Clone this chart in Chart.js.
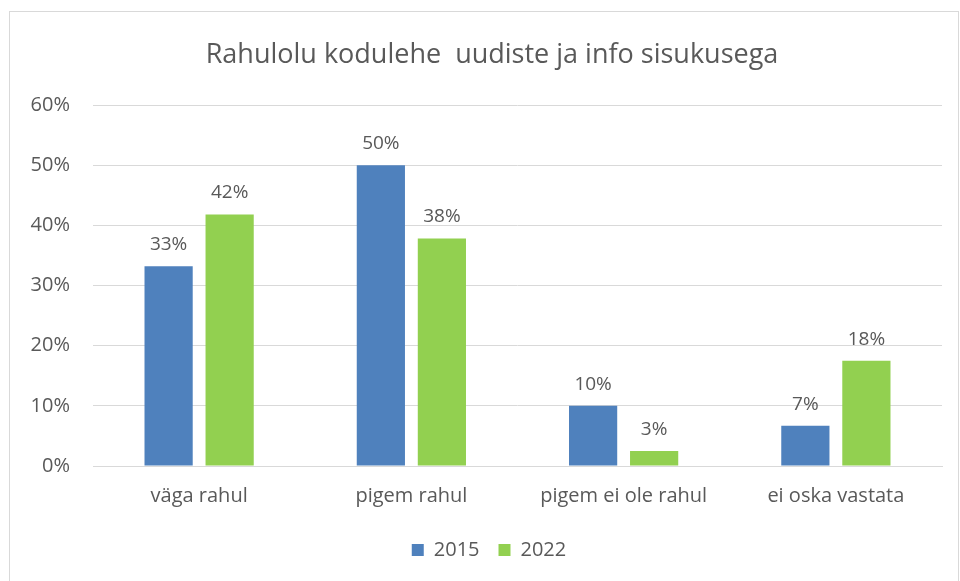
<!DOCTYPE html>
<html>
<head>
<meta charset="utf-8">
<script src="https://cdn.jsdelivr.net/npm/chart.js@4/dist/chart.umd.min.js"></script>
<style>
  html, body { margin: 0; padding: 0; background: #fff; }
  #box {
    position: absolute; left: 9px; top: 11px;
    width: 950px; height: 572px;
    border: 1px solid #d9d9d9; box-sizing: border-box;
  }
  #chart { display: block; }
</style>
</head>
<body>
<div id="box"><canvas id="chart" width="948" height="570"></canvas></div>
<script>
// andmed
const categories = ['väga rahul', 'pigem rahul', 'pigem ei ole rahul', 'ei oska vastata'];
const values2015 = [33.2, 50, 10, 6.7];
const values2022 = [41.8, 37.8, 2.5, 17.5];
const yTicks = [0, 10, 20, 30, 40, 50, 60];
const chartTitle = 'Rahulolu kodulehe  uudiste ja info sisukusega';

const fontFamily = '"Open Sans", "Noto Sans", sans-serif';
const textColor = '#595959';

// pealkiri veidi paremale nihutatult (nagu Excelis)
const titleText = {
    id: 'titleText',
    afterDraw(chart) {
        const ctx = chart.ctx;
        ctx.save();
        ctx.font = '27px ' + fontFamily;
        ctx.fillStyle = textColor;
        ctx.textAlign = 'center';
        ctx.textBaseline = 'middle';
        ctx.fillText(chartTitle, chart.width / 2 + 8, 43);
        ctx.restore();
    }
};

// legend samuti veidi paremale
const legendShift = {
    id: 'legendShift',
    afterLayout(chart) {
        if (chart.legend) {
            chart.legend.left += 13;
            chart.legend.right += 13;
        }
    }
};

// väärtuste sildid tulpade kohal
const barLabels = {
    id: 'barLabels',
    afterDatasetsDraw(chart) {
        const ctx = chart.ctx;
        ctx.save();
        ctx.font = '19px ' + fontFamily;
        ctx.fillStyle = textColor;
        ctx.textAlign = 'center';
        ctx.textBaseline = 'bottom';
        chart.data.datasets.forEach((ds, i) => {
            chart.getDatasetMeta(i).data.forEach((bar, j) => {
                ctx.fillText(Math.round(ds.data[j]) + '%', bar.x, bar.y - 12);
            });
        });
        ctx.restore();
    }
};

new Chart(document.getElementById('chart'), {
    type: 'bar',
    data: {
        labels: categories,
        datasets: [
            { label: '2015', data: values2015, backgroundColor: '#4F81BD' },
            { label: '2022', data: values2022, backgroundColor: '#92D050' }
        ]
    },
    options: {
        responsive: false,
        animation: false,
        categoryPercentage: 0.575,
        barPercentage: 0.79,
        layout: { padding: { left: 0, right: 16, top: 93, bottom: 12 } },
        scales: {
            x: {
                afterFit(axis) { axis.height += 3; },
                grid: { display: false },
                border: { color: '#d9d9d9' },
                ticks: { color: textColor, font: { size: 20, family: fontFamily }, padding: 10 }
            },
            y: {
                min: 0, max: 60,
                afterBuildTicks(axis) { axis.ticks = yTicks.map(v => ({ value: v })); },
                afterFit(axis) { axis.width = 83; },
                grid: { color: '#d9d9d9', drawTicks: false },
                border: { display: false },
                ticks: {
                    color: textColor, font: { size: 20, family: fontFamily }, padding: 23,
                    callback: v => v + '%'
                }
            }
        },
        plugins: {
            title: { display: false },
            legend: {
                position: 'bottom',
                labels: {
                    color: textColor, font: { size: 20, family: fontFamily },
                    boxWidth: 12, boxHeight: 12, padding: 19
                }
            },
            tooltip: { enabled: false }
        }
    },
    plugins: [barLabels, titleText, legendShift]
});
</script>
</body>
</html>
